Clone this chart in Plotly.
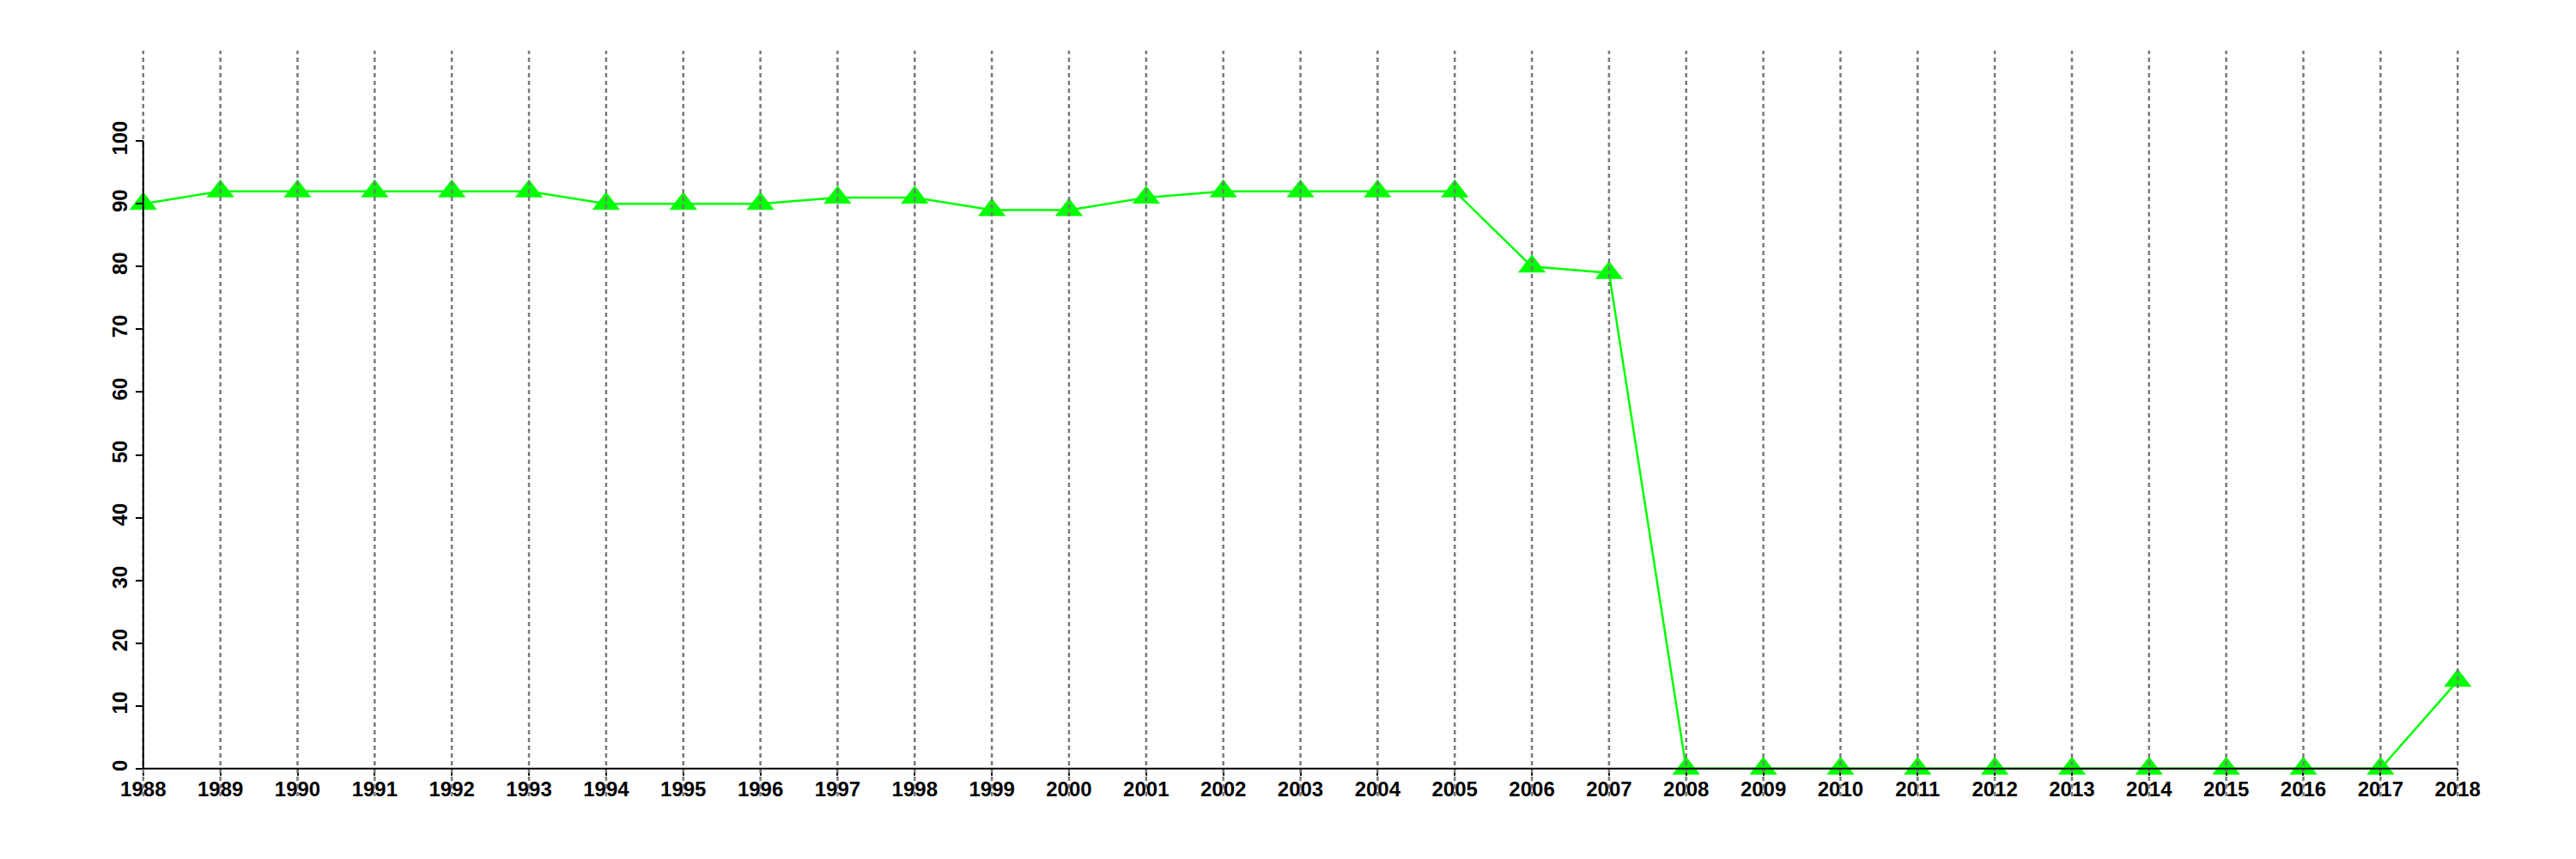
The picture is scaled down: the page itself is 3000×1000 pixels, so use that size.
import plotly.graph_objects as go

years = list(range(1988, 2019))
values = [90, 92, 92, 92, 92, 92, 90, 90, 90, 91, 91, 89, 89, 91, 92, 92, 92, 92,
          80, 79, 0, 0, 0, 0, 0, 0, 0, 0, 0, 0, 14]
y_ticks = list(range(0, 101, 10))

# R-style 4% padding around data ranges
x_lo, x_hi = years[0], years[-1]
y_lo, y_hi = 0, 110
xpad = (x_hi - x_lo) * 0.04
ypad = (y_hi - y_lo) * 0.04
xr = [x_lo - xpad, x_hi + xpad]
yr = [y_lo - ypad, y_hi + ypad]

fig = go.Figure()
fig.add_trace(go.Scatter(
    x=years, y=values, mode="lines+markers",
    line=dict(color="#00FF00", width=2.5),
    marker=dict(symbol="triangle-up", size=28, color="#00FF00"),
    showlegend=False, hoverinfo="x+y",
))

shapes = []
for yv in years:
    shapes.append(dict(type="line", xref="x", yref="paper", x0=yv, x1=yv, y0=0, y1=1,
                       line=dict(color="#7a7a7a", width=2.5, dash="5px,4px"), layer="above"))
# axis lines spanning tick range (R style)
shapes.append(dict(type="line", xref="x", yref="y", x0=years[0], x1=years[-1], y0=y_ticks[0], y1=y_ticks[0],
                   line=dict(color="black", width=2), layer="above"))
shapes.append(dict(type="line", xref="x", yref="y", x0=years[0], x1=years[0], y0=y_ticks[0], y1=y_ticks[-1],
                   line=dict(color="black", width=2), layer="above"))

tickfont = dict(family="Liberation Sans", size=24, color="black", weight="bold")

fig.update_layout(
    width=3000, height=1000,
    margin=dict(l=51, r=38, t=51, b=81),
    paper_bgcolor="white", plot_bgcolor="white",
    shapes=shapes,
    xaxis=dict(range=xr, tickvals=years, ticktext=[str(y) for y in years],
               showgrid=False, zeroline=False, showline=False,
               ticks="outside", ticklen=7, tickwidth=2, tickcolor="black",
               tickfont=tickfont, anchor="free", position=ypad / (yr[1] - yr[0]),
               ticklabelstandoff=-5),
    yaxis=dict(range=yr, tickvals=y_ticks, ticktext=[str(v) for v in y_ticks],
               showgrid=False, zeroline=False, showline=False,
               ticks="outside", ticklen=9, tickwidth=2, tickcolor="black",
               tickfont=tickfont, tickangle=-90, anchor="free",
               position=xpad / (xr[1] - xr[0])),
)

fig.write_html("out.html")
